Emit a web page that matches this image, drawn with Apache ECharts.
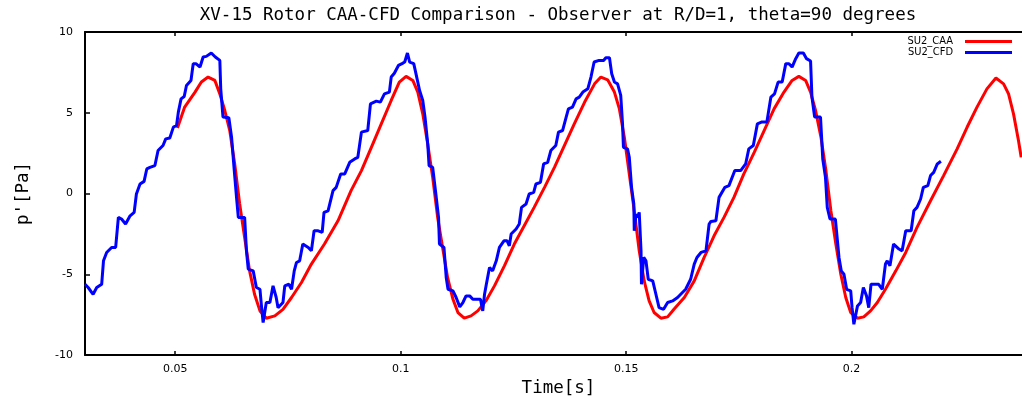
<!DOCTYPE html>
<html><head><meta charset="utf-8">
<script src="https://cdn.jsdelivr.net/npm/echarts@6/dist/echarts.min.js"></script>
<style>html,body{margin:0;padding:0;background:#fff}#c{width:1022px;height:397px}</style>
</head><body><div id="c"></div>
<script>
const titleText = 'XV-15 Rotor CAA-CFD Comparison - Observer at R/D=1, theta=90 degrees';
const xAxisTitle = 'Time[s]';
const yAxisTitle = "p'[Pa]";
const seriesNames = ['SU2_CAA', 'SU2_CFD'];
const xTickValues = [0.05, 0.1, 0.15, 0.2];
const yTickValues = [-10, -5, 0, 5, 10];

const caaTime = [0.0505,0.0521,0.0544,0.0558,0.0573,0.0588,0.0599,0.0610,0.0621,0.0632,0.0643,0.0654,0.0665,0.0676,0.0688,0.0702,0.0721,0.0739,0.0758,0.0780,0.0802,0.0831,0.0861,0.0890,0.0913,0.0935,0.0957,0.0979,0.0997,0.1012,0.1027,0.1038,0.1049,0.1060,0.1071,0.1082,0.1093,0.1104,0.1116,0.1127,0.1141,0.1156,0.1171,0.1189,0.1208,0.1230,0.1252,0.1274,0.1296,0.1319,0.1341,0.1363,0.1385,0.1408,0.1430,0.1444,0.1459,0.1474,0.1485,0.1496,0.1507,0.1518,0.1529,0.1540,0.1551,0.1562,0.1577,0.1592,0.1606,0.1629,0.1651,0.1673,0.1695,0.1717,0.1739,0.1761,0.1784,0.1806,0.1828,0.1850,0.1868,0.1883,0.1898,0.1909,0.1920,0.1932,0.1943,0.1954,0.1965,0.1976,0.1987,0.1998,0.2013,0.2027,0.2042,0.2057,0.2075,0.2098,0.2120,0.2145,0.2175,0.2204,0.2234,0.2256,0.2278,0.2300,0.2320,0.2337,0.2348,0.2359,0.2370,0.2376];
const caaP = [4.06,5.35,6.28,6.90,7.21,7.00,6.17,5.14,3.90,1.83,-0.65,-2.72,-4.79,-6.24,-7.27,-7.72,-7.58,-7.17,-6.44,-5.51,-4.37,-3.13,-1.69,0.18,1.42,2.86,4.31,5.76,6.90,7.25,7.00,6.28,4.93,3.07,1.00,-1.48,-3.34,-5.20,-6.55,-7.37,-7.72,-7.58,-7.27,-6.65,-5.72,-4.48,-3.13,-2.00,-0.86,0.38,1.62,2.97,4.31,5.66,6.79,7.21,7.04,6.28,5.24,3.49,1.21,-1.07,-3.55,-5.41,-6.65,-7.37,-7.72,-7.64,-7.17,-6.44,-5.41,-3.96,-2.62,-1.48,-0.24,1.21,2.55,3.90,5.24,6.28,7.00,7.25,7.00,6.28,5.14,3.49,1.42,-1.07,-3.13,-5.00,-6.44,-7.37,-7.72,-7.64,-7.27,-6.75,-5.93,-4.79,-3.65,-2.10,-0.45,1.11,2.76,4.10,5.35,6.48,7.15,6.79,6.17,4.93,3.28,2.24];

const cfdTime = [0.0300,0.0307,0.0318,0.0326,0.0337,0.0341,0.0348,0.0359,0.0368,0.0374,0.0381,0.0390,0.0400,0.0409,0.0414,0.0422,0.0431,0.0437,0.0444,0.0455,0.0462,0.0473,0.0479,0.0488,0.0496,0.0503,0.0507,0.0513,0.0520,0.0525,0.0535,0.0540,0.0546,0.0555,0.0562,0.0569,0.0580,0.0589,0.0599,0.0601,0.0606,0.0619,0.0625,0.0631,0.0636,0.0640,0.0654,0.0658,0.0662,0.0673,0.0680,0.0688,0.0691,0.0695,0.0702,0.0710,0.0717,0.0724,0.0728,0.0739,0.0743,0.0752,0.0758,0.0764,0.0769,0.0776,0.0783,0.0795,0.0802,0.0808,0.0817,0.0826,0.0830,0.0839,0.0850,0.0857,0.0867,0.0876,0.0887,0.0898,0.0905,0.0913,0.0927,0.0933,0.0946,0.0955,0.0964,0.0975,0.0979,0.0986,0.0995,0.1003,0.1009,0.1015,0.1020,0.1029,0.1034,0.1042,0.1049,0.1054,0.1060,0.1063,0.1071,0.1078,0.1084,0.1086,0.1096,0.1101,0.1105,0.1116,0.1123,0.1131,0.1138,0.1145,0.1153,0.1160,0.1171,0.1177,0.1182,0.1186,0.1190,0.1197,0.1204,0.1212,0.1219,0.1229,0.1236,0.1241,0.1245,0.1256,0.1263,0.1268,0.1278,0.1285,0.1295,0.1300,0.1310,0.1317,0.1326,0.1333,0.1344,0.1350,0.1359,0.1367,0.1372,0.1381,0.1389,0.1396,0.1404,0.1415,0.1422,0.1429,0.1440,0.1450,0.1455,0.1463,0.1468,0.1474,0.1481,0.1488,0.1492,0.1494,0.1503,0.1507,0.1512,0.1517,0.1518,0.1522,0.1525,0.1529,0.1533,0.1534,0.1539,0.1544,0.1549,0.1559,0.1566,0.1573,0.1583,0.1592,0.1603,0.1614,0.1621,0.1632,0.1643,0.1651,0.1657,0.1666,0.1677,0.1684,0.1688,0.1699,0.1706,0.1719,0.1728,0.1741,0.1754,0.1765,0.1772,0.1782,0.1791,0.1800,0.1812,0.1821,0.1829,0.1837,0.1846,0.1854,0.1861,0.1868,0.1876,0.1883,0.1893,0.1900,0.1909,0.1912,0.1918,0.1931,0.1936,0.1942,0.1946,0.1952,0.1964,0.1972,0.1977,0.1983,0.1989,0.1998,0.2001,0.2005,0.2013,0.2020,0.2026,0.2033,0.2038,0.2043,0.2051,0.2060,0.2068,0.2075,0.2079,0.2085,0.2093,0.2105,0.2112,0.2120,0.2132,0.2138,0.2145,0.2153,0.2159,0.2169,0.2175,0.2182,0.2190,0.2198];
const cfdP = [-5.62,-5.82,-6.24,-5.82,-5.62,-4.17,-3.65,-3.34,-3.34,-1.48,-1.58,-1.89,-1.38,-1.17,-0.03,0.59,0.75,1.52,1.62,1.73,2.66,2.97,3.38,3.44,4.11,4.21,5.04,5.86,6.01,6.69,7.00,8.04,8.04,7.83,8.45,8.49,8.70,8.45,8.24,6.48,4.73,4.69,3.49,1.42,-0.24,-1.48,-1.48,-3.55,-4.68,-4.79,-5.82,-5.93,-6.86,-7.99,-6.75,-6.75,-5.72,-6.44,-7.07,-6.75,-5.72,-5.62,-5.93,-4.79,-4.27,-4.17,-3.13,-3.34,-3.55,-2.31,-2.31,-2.41,-1.17,-1.07,0.18,0.38,1.21,1.21,1.93,2.14,2.24,3.80,3.90,5.55,5.72,5.66,6.17,6.28,7.21,7.45,7.93,8.04,8.14,8.70,8.14,8.04,7.41,6.38,5.76,4.73,3.07,1.73,1.62,-0.03,-1.48,-3.13,-3.34,-5.20,-5.93,-6.03,-6.44,-7.02,-6.75,-6.34,-6.34,-6.55,-6.55,-6.55,-7.27,-6.24,-5.62,-4.58,-4.79,-4.17,-3.34,-2.93,-2.93,-3.24,-2.51,-2.20,-1.89,-0.86,-0.65,-0.03,0.07,0.59,0.69,1.83,1.93,2.66,2.97,3.80,3.90,4.73,5.24,5.35,5.86,5.97,6.28,6.48,7.21,8.14,8.24,8.24,8.41,8.41,7.41,6.90,6.79,6.07,4.31,2.86,2.76,2.24,0.38,-0.65,-2.31,-1.27,-1.48,-1.17,-3.55,-5.62,-3.96,-4.17,-5.31,-5.41,-6.24,-7.07,-7.17,-6.75,-6.65,-6.44,-6.24,-5.93,-5.31,-4.37,-3.96,-3.65,-3.55,-1.89,-1.73,-1.69,-0.24,0.38,0.49,1.42,1.42,1.83,2.76,2.97,4.31,4.42,4.42,5.97,6.17,6.90,6.90,8.04,8.04,7.83,8.35,8.70,8.70,8.35,8.20,5.97,4.73,4.73,2.14,1.00,-0.86,-1.58,-1.58,-3.96,-4.79,-5.00,-5.93,-6.03,-7.07,-8.10,-6.96,-6.75,-5.82,-6.34,-7.07,-5.62,-5.62,-5.62,-5.93,-4.37,-4.17,-4.48,-3.13,-3.44,-3.55,-2.31,-2.31,-1.07,-0.86,-0.34,0.38,0.49,1.11,1.31,1.83,2.00];

const caaData = caaTime.map((t, i) => [t, caaP[i]]);
const cfdData = cfdTime.map((t, i) => [t, cfdP[i]]);

const mono = "'DejaVu Sans Mono', monospace";
const chart = echarts.init(document.getElementById('c'), null, {renderer: 'canvas'});
chart.setOption({
  animation: false,
  backgroundColor: '#ffffff',
  title: {
    text: titleText,
    left: 558, top: 6, padding: 0, textAlign: 'center',
    textStyle: {fontFamily: mono, fontSize: 17.5, fontWeight: 'normal', color: '#000'}
  },
  legend: {
    data: seriesNames,
    orient: 'vertical', align: 'right', right: 10, top: 36, padding: 0,
    icon: 'rect', itemWidth: 47, itemHeight: 3, itemGap: 0,
    textStyle: {fontFamily: "'Liberation Sans Narrow', 'DejaVu Sans Condensed', sans-serif", fontSize: 11, lineHeight: 11, color: '#000', padding: [0, 7, 0, 0]}
  },
  grid: {left: 85, top: 32, width: 947, height: 323, containLabel: false, outerBoundsMode: 'none'},
  xAxis: [{
    type: 'value', min: 0.03, max: 0.24, position: 'bottom',
    name: xAxisTitle, nameLocation: 'middle', nameGap: 12,
    nameTextStyle: {fontFamily: mono, fontSize: 17.5, fontWeight: 'normal', color: '#000'},
    axisLine: {onZero: false, lineStyle: {color: '#000', width: 2}},
    axisTick: {inside: true, length: 4, customValues: xTickValues, lineStyle: {color: '#000', width: 1.5}},
    axisLabel: {customValues: xTickValues, margin: 9, fontFamily: "'DejaVu Sans', sans-serif", fontSize: 11, color: '#000',
      formatter: v => String(+v.toFixed(2))},
    splitLine: {show: false}
  }, {
    type: 'value', min: 0.03, max: 0.24, position: 'top',
    axisLine: {onZero: false, lineStyle: {color: '#000', width: 2}},
    axisTick: {inside: true, length: 4, customValues: xTickValues, lineStyle: {color: '#000', width: 1.5}},
    axisLabel: {show: false},
    splitLine: {show: false}
  }],
  yAxis: {
    type: 'value', min: yTickValues[0], max: yTickValues[yTickValues.length - 1], interval: 5,
    name: yAxisTitle, nameLocation: 'middle', nameGap: 53, nameRotate: 90,
    nameTextStyle: {fontFamily: mono, fontSize: 17.5, color: '#000'},
    axisLine: {onZero: false, lineStyle: {color: '#000', width: 2}},
    axisTick: {inside: true, length: 5, lineStyle: {color: '#000', width: 1.5}},
    axisLabel: {margin: 12, fontFamily: "'DejaVu Sans', sans-serif", fontSize: 11, color: '#000'},
    splitLine: {show: false}
  },
  series: [{
    name: seriesNames[0], type: 'line', data: caaData, showSymbol: false, symbol: 'none',
    color: '#ff0000', lineStyle: {color: '#ff0000', width: 3}, itemStyle: {color: '#ff0000'}
  }, {
    name: seriesNames[1], type: 'line', data: cfdData, showSymbol: false, symbol: 'none',
    color: '#0000ff', lineStyle: {color: '#0000ff', width: 3}, itemStyle: {color: '#0000ff'}
  }]
});
</script>
</body></html>
